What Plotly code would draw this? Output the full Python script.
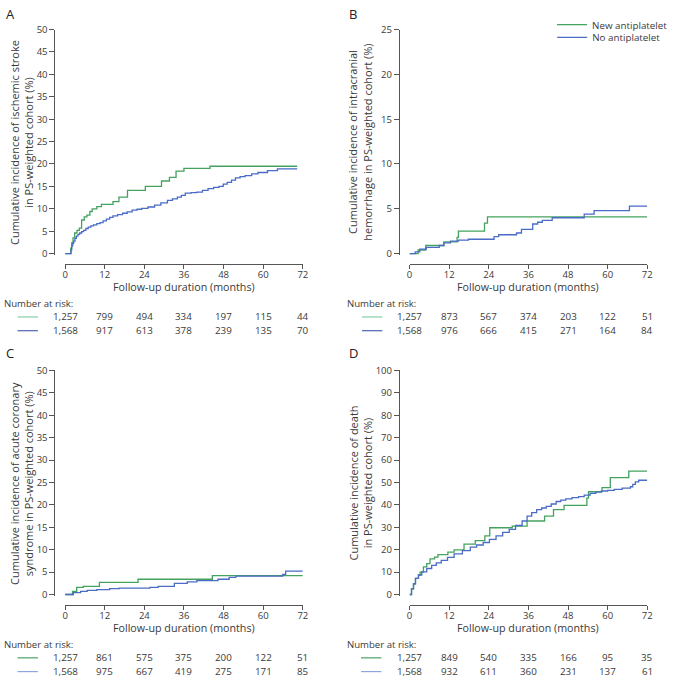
import plotly.graph_objects as go

W, H = 673, 682

month_ticks = [0, 12, 24, 36, 48, 60, 72]
series_names = ["New antiplatelet", "No antiplatelet"]

# ---- Panel A: ischemic stroke ----
a_new_t = [0, 1.7, 2.0, 2.4, 2.9, 3.6, 4.3, 5.0, 5.8, 6.6, 7.5, 8.2, 9.6, 11.0, 14.5, 16.3, 18.9, 24.3, 29.2, 31.6, 33.6, 36.0, 43.9, 70.3]
a_new_v = [0, 1.2, 2.4, 3.5, 4.6, 5.2, 5.7, 7.5, 8.2, 8.6, 9.4, 10.0, 10.5, 11.0, 11.6, 12.6, 14.1, 15.0, 16.2, 17.0, 18.4, 19.0, 19.5, 19.5]
a_no_t = [0, 1.8, 2.0, 2.3, 2.6, 3.0, 3.4, 3.9, 4.4, 5.0, 5.6, 6.3, 7.0, 7.8, 8.6, 9.6, 10.6, 11.5, 12.5, 13.5, 14.5, 15.9, 17.4, 18.8, 20.3, 21.8, 23.2, 25.1, 27.1, 29.0, 31.0, 32.5, 34.0, 35.2, 36.4, 38.2, 39.9, 41.6, 43.3, 45.0, 46.6, 47.9, 49.1, 50.4, 51.6, 53.0, 54.5, 56.5, 58.4, 61.3, 64.3, 70.3]
a_no_v = [0, 0.8, 1.7, 2.3, 2.8, 3.4, 3.9, 4.3, 4.6, 4.9, 5.2, 5.6, 5.9, 6.2, 6.4, 6.7, 6.9, 7.3, 7.7, 8.1, 8.4, 8.7, 9.0, 9.3, 9.7, 9.9, 10.1, 10.4, 10.8, 11.3, 11.9, 12.2, 12.6, 13.0, 13.5, 13.6, 13.7, 14.1, 14.5, 14.8, 15.0, 15.5, 15.9, 16.4, 16.9, 17.2, 17.4, 17.8, 18.1, 18.5, 18.9, 18.9]

# ---- Panel B: intracranial hemorrhage ----
b_new_t = [0, 2.6, 4.9, 10.4, 14.4, 14.8, 22.7, 23.6, 72]
b_new_v = [0, 0.4, 0.9, 1.3, 1.8, 2.5, 3.4, 4.1, 4.1]
b_no_t = [0, 1.7, 3.1, 5.1, 9.0, 10.4, 12.4, 14.8, 17.8, 25.6, 27.0, 32.4, 33.9, 37.3, 38.8, 40.2, 43.2, 52.9, 55.9, 66.6, 72]
b_no_v = [0, 0.2, 0.5, 0.7, 0.9, 1.2, 1.4, 1.5, 1.6, 1.9, 2.1, 2.3, 2.7, 3.3, 3.5, 3.7, 4.0, 4.4, 4.8, 5.3, 5.3]

# ---- Panel C: acute coronary syndrome ----
c_new_t = [0, 2.25, 3.5, 5.5, 10.4, 22.1, 44.6, 72]
c_new_v = [0, 0.7, 1.6, 1.8, 2.7, 3.4, 4.2, 4.2]
c_no_t = [0, 2.5, 4.7, 6.7, 9.6, 13.5, 16.4, 25.7, 28.2, 33.1, 37.0, 39.9, 46.3, 49.7, 51.7, 65.9, 66.8, 72]
c_no_v = [0, 0.4, 0.7, 0.9, 1.1, 1.3, 1.4, 1.6, 1.8, 2.5, 2.8, 3.1, 3.4, 3.8, 4.1, 4.5, 5.2, 5.2]

# ---- Panel D: death ----
d_new_t = [0, 0.6, 1.2, 1.8, 2.7, 3.2, 4.2, 5.2, 6.2, 7.6, 8.6, 11.6, 13.5, 16.5, 19.9, 22.8, 24.3, 31.1, 35.6, 40.9, 43.6, 46.8, 53.7, 54.2, 58.3, 60.8, 66.4, 72]
d_new_v = [0, 2.5, 4.8, 7.2, 8.7, 10.0, 12.3, 13.8, 15.9, 16.7, 17.8, 18.9, 19.9, 22.5, 24.0, 26.2, 29.8, 30.5, 32.8, 35.0, 37.9, 39.8, 43.0, 45.9, 47.7, 52.2, 55.1, 55.1]
d_no_t = [0, 0.6, 1.2, 1.8, 2.7, 3.7, 5.2, 6.7, 8.1, 9.6, 11.5, 13.5, 16.0, 18.4, 20.3, 22.3, 24.2, 26.2, 28.2, 30.2, 32.1, 34.1, 35.6, 37.0, 38.5, 40.0, 41.4, 42.9, 44.4, 45.8, 47.3, 49.2, 51.2, 52.9, 54.7, 56.4, 58.1, 60.0, 62.0, 64.4, 66.9, 67.6, 68.4, 69.4, 72]
d_no_v = [0, 2.5, 4.8, 7.2, 8.7, 10.1, 11.6, 13.0, 14.1, 15.2, 16.6, 18.1, 19.6, 21.1, 22.1, 23.2, 24.6, 26.2, 27.7, 29.1, 30.8, 32.8, 35.0, 36.5, 37.9, 38.6, 39.3, 40.4, 41.5, 42.1, 42.7, 43.2, 43.7, 44.4, 45.2, 45.7, 46.2, 46.5, 46.9, 47.5, 48.1, 49.2, 50.3, 51.0, 51.0]

# ---- Number at risk ----
risk_a_new = ["1,257", "799", "494", "334", "197", "115", "44"]
risk_a_no = ["1,568", "917", "613", "378", "239", "135", "70"]
risk_b_new = ["1,257", "873", "567", "374", "203", "122", "51"]
risk_b_no = ["1,568", "976", "666", "415", "271", "164", "84"]
risk_c_new = ["1,257", "861", "575", "375", "200", "122", "51"]
risk_c_no = ["1,568", "975", "667", "419", "275", "171", "85"]
risk_d_new = ["1,257", "849", "540", "335", "166", "95", "35"]
risk_d_no = ["1,568", "932", "611", "360", "231", "137", "61"]

y_titles = [
    "Cumulative incidence of ischemic stroke<br>in PS-weighted cohort (%)",
    "Cumulative incidence of intracranial<br>hemorrhage in PS-weighted cohort (%)",
    "Cumulative incidence of acute coronary<br>syndrome in PS-weighted cohort (%)",
    "Cumulative incidence of death<br>in PS-weighted cohort (%)",
]
x_title = "Follow-up duration (months)"
panel_letters = ["A", "B", "C", "D"]
y_max = [50, 25, 50, 100]
y_dtick = [5, 5, 5, 10]

GREEN = "#43a25e"
BLUE = "#4a6bc6"
AXIS = "#555555"
TEXT = "#3a3a3a"
FONT = "Open Sans"

# layout geometry (pixels)
geom = [
    dict(x0=64, x1=309, ytop=23, ybot=251, yax=53, xax=261.5, ty=7.5, letx=1, lx=-1, line0=15, titx=19),
    dict(x0=419, x1=664, ytop=23, ybot=251, yax=408, xax=261.5, ty=7.5, letx=355, lx=352, line0=370, titx=368),
    dict(x0=64, x1=309, ytop=370, ybot=598, yax=53, xax=608.5, ty=352.5, letx=1, lx=-1, line0=15, titx=19),
    dict(x0=419, x1=664, ytop=370, ybot=598, yax=408, xax=608.5, ty=352.5, letx=355, lx=352, line0=369, titx=368),
]
risk_tables = [(risk_a_new, risk_a_no), (risk_b_new, risk_b_no), (risk_c_new, risk_c_no), (risk_d_new, risk_d_no)]
risk_line_colors = [("#86cfa6", "#4b63b0"), ("#86cfa6", "#4b63b0"), ("#4aa463", "#8ea6e0"), ("#4aa463", "#8ea6e0")]
curves = [
    ((a_new_t, a_new_v), (a_no_t, a_no_v)),
    ((b_new_t, b_new_v), (b_no_t, b_no_v)),
    ((c_new_t, c_new_v), (c_no_t, c_no_v)),
    ((d_new_t, d_new_v), (d_no_t, d_no_v)),
]


def fx(px):
    return px / W


def fy(py):
    return 1 - py / H


fig = go.Figure()
annotations = []
shapes = []
layout = {}

for i in range(4):
    g = geom[i]
    s = "" if i == 0 else str(i + 1)
    xa, ya = "x" + s, "y" + s
    ppu = (g["ybot"] - g["ytop"]) / y_max[i]
    pad = 1.5
    layout["xaxis" + s] = dict(
        domain=[fx(g["x0"]), fx(g["x1"])], range=[0, 72], anchor="free",
        position=fy(g["xax"]), tickvals=month_ticks, ticks="outside", ticklen=4,
        tickcolor=AXIS, showline=True, linecolor=AXIS, linewidth=1,
        ticklabelstandoff=-2,
        showgrid=False, zeroline=False, tickfont=dict(size=9.5, color=TEXT, family=FONT),
        fixedrange=True,
    )
    layout["yaxis" + s] = dict(
        domain=[fy(g["ybot"] + pad), fy(g["ytop"])], range=[-pad / ppu, y_max[i]],
        anchor="free", position=fx(g["yax"]), tick0=0, dtick=y_dtick[i],
        ticks="outside", ticklen=5, tickcolor=AXIS, showline=True, linecolor=AXIS,
        linewidth=1, showgrid=False, zeroline=False,
        tickfont=dict(size=9.5, color=TEXT, family=FONT), fixedrange=True,
    )
    (nt, nv), (ot, ov) = curves[i]
    fig.add_trace(go.Scatter(
        x=nt, y=nv, mode="lines", name=series_names[0],
        line=dict(shape="hv", color=GREEN, width=1.3),
        xaxis=xa, yaxis=ya, showlegend=(i == 1), legend="legend",
    ))
    fig.add_trace(go.Scatter(
        x=ot, y=ov, mode="lines", name=series_names[1],
        line=dict(shape="hv", color=BLUE, width=1.3),
        xaxis=xa, yaxis=ya, showlegend=(i == 1), legend="legend2",
    ))

    # panel letter
    annotations.append(dict(
        text=panel_letters[i], x=fx(g["letx"]), y=fy(g["ty"]),
        xref="paper", yref="paper", xanchor="left", yanchor="middle", showarrow=False,
        font=dict(size=13, color="#222222", family=FONT),
    ))
    # y-axis title
    annotations.append(dict(
        text=y_titles[i], x=fx(g["titx"]), y=fy((g["ytop"] + g["ybot"]) / 2 + 1),
        xref="paper", yref="paper", xanchor="center", yanchor="middle",
        textangle=-90, showarrow=False, align="center",
        font=dict(size=11, color=TEXT, family=FONT),
    ))
    # x-axis title
    annotations.append(dict(
        text=x_title, x=36, xref=xa, y=fy(g["xax"] + 24), yref="paper",
        xanchor="center", yanchor="middle", showarrow=False,
        font=dict(size=10.7, color=TEXT, family=FONT),
    ))
    # number at risk
    base = g["xax"] + 41.5
    annotations.append(dict(
        text="Number at risk:", x=fx(g["lx"]), y=fy(base - 1), xref="paper", yref="paper",
        xanchor="left", yanchor="middle", showarrow=False,
        font=dict(size=9.6, color=TEXT, family=FONT),
    ))
    for r, row in enumerate(risk_tables[i]):
        ry = base + 12.5 + 14 * r
        for t, val in zip(month_ticks, row):
            annotations.append(dict(
                text=val, x=t, xref=xa, y=fy(ry), yref="paper",
                xanchor="center", yanchor="middle", showarrow=False,
                font=dict(size=9.8, color=TEXT, family=FONT),
            ))
        shapes.append(dict(
            type="line", xref="paper", yref="paper",
            x0=fx(g["line0"]), x1=fx(g["line0"] + 21), y0=fy(ry), y1=fy(ry),
            line=dict(color=risk_line_colors[i][r], width=1.2),
        ))

fig.update_layout(
    width=W, height=H, margin=dict(l=0, r=0, t=0, b=0),
    paper_bgcolor="white", plot_bgcolor="white",
    font=dict(family=FONT, color=TEXT),
    annotations=annotations, shapes=shapes,
    legend=dict(x=fx(566), y=fy(18), xanchor="left", yanchor="middle",
                bgcolor="rgba(0,0,0,0)", font=dict(size=9.8, color=TEXT, family=FONT),
                itemwidth=30, tracegroupgap=0),
    legend2=dict(x=fx(566), y=fy(31), xanchor="left", yanchor="middle",
                 bgcolor="rgba(0,0,0,0)", font=dict(size=9.8, color=TEXT, family=FONT),
                 itemwidth=30, tracegroupgap=0),
    **layout,
)

fig.write_html(
    "out.html",
    config={"displayModeBar": False},
    post_script="document.body.style.margin='0';document.body.style.overflow='hidden';",
)
